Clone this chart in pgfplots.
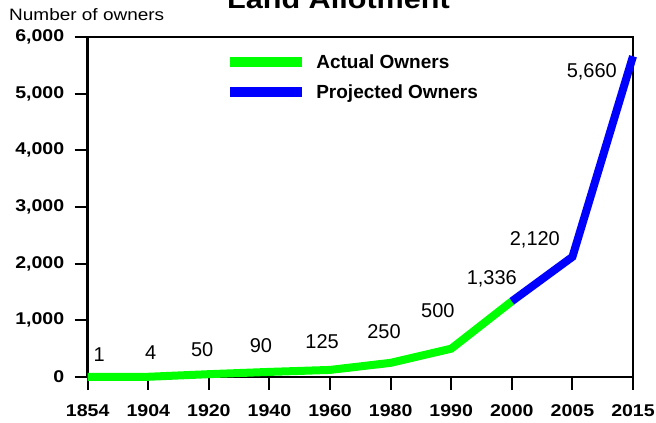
\documentclass[border=0pt]{standalone}
\usepackage{pgfplots}
\pgfplotsset{compat=1.18}
\usepackage{fontspec}
\setmainfont{Liberation Sans}
\newfontfamily\widefont[FakeStretch=1.15]{Liberation Sans}
\definecolor{actgreen}{RGB}{0,255,0}
\definecolor{projblue}{RGB}{0,0,255}
\begin{document}
\begin{tikzpicture}[x=1bp,y=1bp]
\begin{axis}[
  at={(87.7bp,46bp)}, anchor=south west,
  scale only axis, width=545.3bp, height=340bp,
  xmin=0, xmax=9, ymin=0, ymax=6000,
  clip=false,
  axis line style={line width=2.5bp},
  tick align=outside, tick pos=left,
  major tick length=13bp,
  tick style={black, line width=2bp},
  xtick={0,...,9},
  xticklabels={1854,1904,1920,1940,1960,1980,1990,2000,2005,2015},
  ytick={0,1000,...,6000},
  /pgf/number format/1000 sep={,},
  /pgf/number format/assume math mode=true,
  ticklabel style={font=\widefont\bfseries\fontsize{17bp}{20bp}\selectfont},
  xticklabel style={yshift=-11bp},
  yticklabel style={xshift=-7bp},
  legend cell align=left,
  legend style={draw=none, fill=none, at={(rel axis cs:0.252,0.955)}, anchor=north west,
    inner sep=0pt, row sep=11bp, font=\bfseries\fontsize{19bp}{22bp}\selectfont,
    /tikz/every odd column/.style={column sep=7bp}},
  legend image code/.code={\draw[#1, line width=10bp] (0bp,0bp) -- (72bp,0bp);},
]
\addplot[actgreen, line width=8bp] coordinates {(0,1) (1,4) (2,50) (3,90) (4,125) (5,250) (6,500) (7,1336)};
\addlegendentry{Actual Owners}
\addplot[projblue, line width=8bp] coordinates {(7,1336) (8,2120) (9,5660)};
\addlegendentry{Projected Owners}
\begin{scope}[every node/.style={font=\fontsize{20bp}{22bp}\selectfont}]
\node at (axis cs:0.19,388) {1};
\node at (axis cs:1.04,424) {4};
\node at (axis cs:1.89,476) {50};
\node at (axis cs:2.86,547) {90};
\node at (axis cs:3.87,618) {125};
\node at (axis cs:4.89,794) {250};
\node at (axis cs:5.78,1165) {500};
\node at (axis cs:6.67,1729) {1,336};
\node at (axis cs:7.38,2418) {2,120};
\node at (axis cs:8.32,5382) {5,660};
\end{scope}
\end{axis}
\node[anchor=base, font=\widefont\bfseries\fontsize{26.6bp}{30bp}\selectfont] at (338.5bp,414.5bp) {Land Allotment};
\node[anchor=base west, inner sep=0pt, font=\widefont\fontsize{16.5bp}{18bp}\selectfont] at (9bp,402.3bp) {Number of owners};
\pgfresetboundingbox
\path[use as bounding box] (0,0) rectangle (656bp,423bp);
\end{tikzpicture}
\end{document}
